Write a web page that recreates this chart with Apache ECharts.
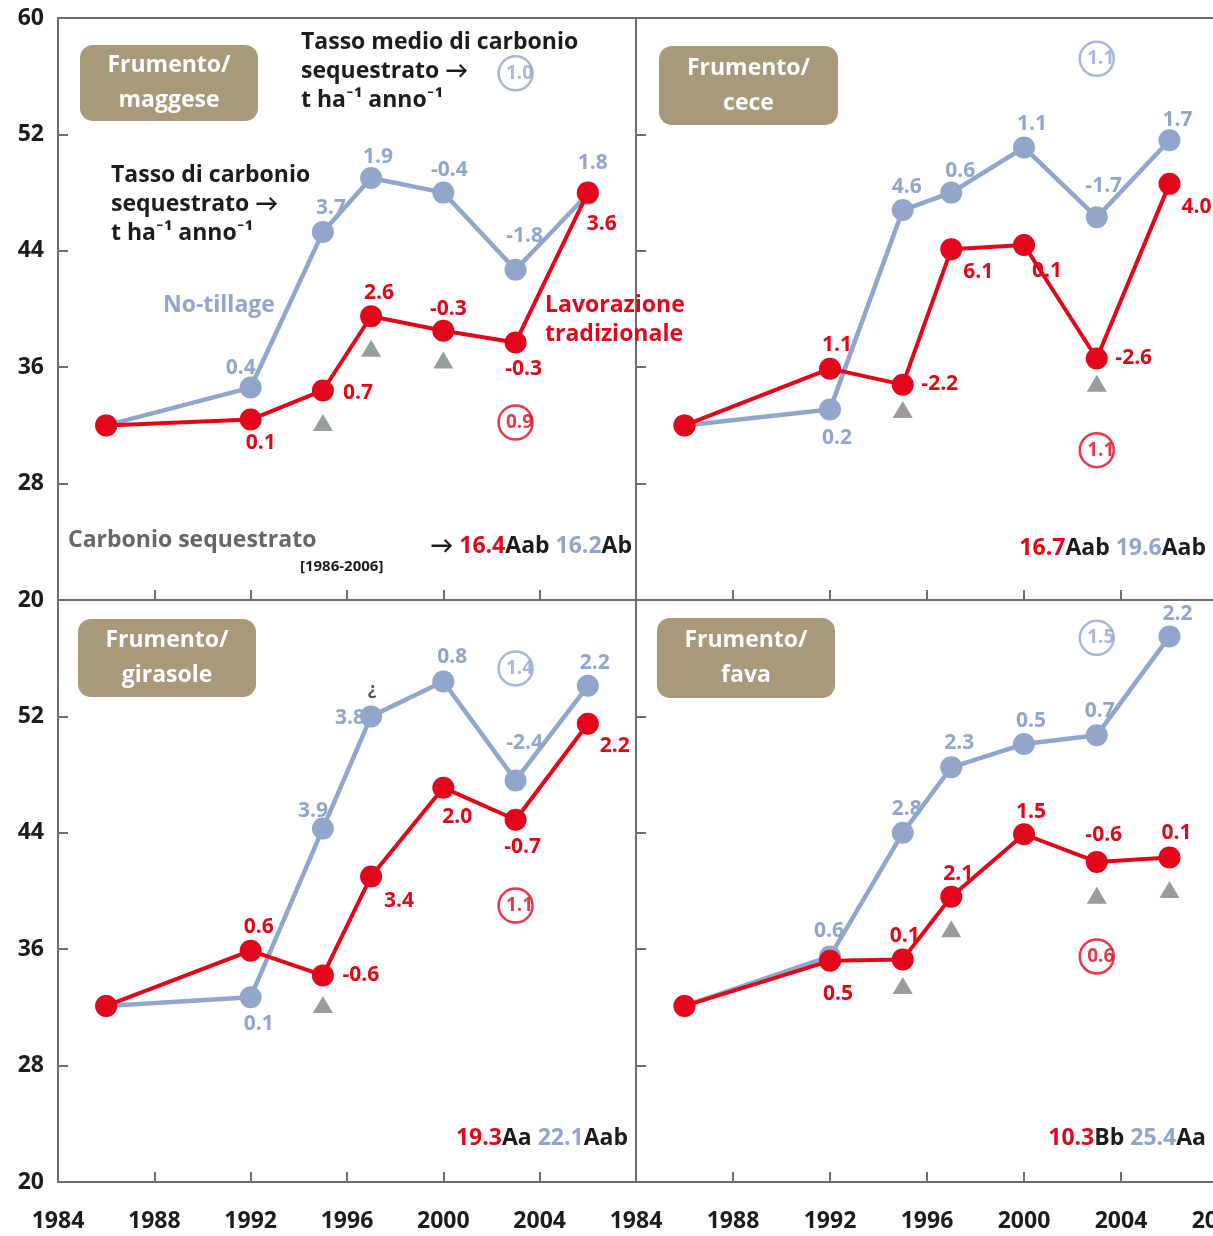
<!DOCTYPE html>
<html><head><meta charset="utf-8">
<script src="https://cdn.jsdelivr.net/npm/echarts/dist/echarts.min.js"></script>
<style>html,body{margin:0;padding:0;background:#fff}#c{width:1213px;height:1236px}</style>
</head><body><div id="c"></div><script>
// ---------------- DATA ----------------
const years = [1986, 1992, 1995, 1997, 2000, 2003, 2006];
const xTicks = [1984, 1988, 1992, 1996, 2000, 2004, 2008];
const yTicks = [20, 28, 36, 44, 52, 60];
const panelTitles = ['Frumento/\nmaggese', 'Frumento/\ncece', 'Frumento/\ngirasole', 'Frumento/\nfava'];

// Carbonio organico del suolo (t/ha)
const tradMaggese   = [32.0, 32.4, 34.4, 39.5, 38.5, 37.7, 48.0];
const notilMaggese  = [32.0, 34.6, 45.3, 49.0, 48.0, 42.7, 47.9];
const tradCece      = [32.0, 35.9, 34.8, 44.1, 44.4, 36.6, 48.6];
const notilCece     = [32.0, 33.1, 46.8, 48.0, 51.1, 46.3, 51.6];
const tradGirasole  = [32.1, 35.9, 34.2, 41.0, 47.1, 44.9, 51.5];
const notilGirasole = [32.1, 32.7, 44.3, 52.0, 54.4, 47.6, 54.1];
const tradFava      = [32.1, 35.2, 35.3, 39.6, 43.9, 42.0, 42.3];
const notilFava     = [32.1, 35.5, 44.0, 48.5, 50.1, 50.7, 57.5];

// Tasso di carbonio sequestrato (t ha-1 anno-1)
const rateTradMaggese   = ['', '0.1', '0.7', '2.6', '-0.3', '-0.3', '3.6'];
const rateNotilMaggese  = ['', '0.4', '3.7', '1.9', '-0.4', '-1.8', '1.8'];
const rateTradCece      = ['', '1.1', '-2.2', '6.1', '0.1', '-2.6', '4.0'];
const rateNotilCece     = ['', '0.2', '4.6', '0.6', '1.1', '-1.7', '1.7'];
const rateTradGirasole  = ['', '0.6', '-0.6', '3.4', '2.0', '-0.7', '2.2'];
const rateNotilGirasole = ['', '0.1', '3.9', '3.8', '0.8', '-2.4', '2.2'];
const rateTradFava      = ['', '0.5', '0.1', '2.1', '1.5', '-0.6', '0.1'];
const rateNotilFava     = ['', '0.6', '2.8', '2.3', '0.5', '0.7', '2.2'];

// Triangoli (differenze significative)
const triYearsMaggese = [1995, 1997, 2000];       const triValMaggese = [32.2, 37.3, 36.5];
const triYearsCece = [1995, 2003];                const triValCece = [33.1, 34.9];
const triYearsGirasole = [1995];                  const triValGirasole = [32.2];
const triYearsFava = [1995, 1997, 2003, 2006];    const triValFava = [33.5, 37.4, 39.7, 40.1];

// Tasso medio di carbonio sequestrato
const avgTrad  = ['0.9', '1.1', '1.1', '0.6'];
const avgNotil = ['1.0', '1.1', '1.4', '1.5'];
// Carbonio sequestrato [1986-2006]
const totTrad     = ['16.4', '16.7', '19.3', '10.3'];
const totTradSig  = ['Aab', 'Aab', 'Aa', 'Bb'];
const totNotil    = ['16.2', '19.6', '22.1', '25.4'];
const totNotilSig = ['Ab', 'Aab', 'Aab', 'Aa'];

// ---------------- LAYOUT / STYLE ----------------
const RED = '#e3061b', BLUE = '#92a6cc', TRI = '#7c877d', TAN = '#a8997a', DARK = '#1c1c1c', BORDER = '#6e6e6e';
const FONT = '"Open Sans", Lato, sans-serif';
const grids = [
  {left: 58, top: 18, width: 578, height: 582},
  {left: 636, top: 18, width: 582, height: 582},
  {left: 58, top: 600, width: 578, height: 582},
  {left: 636, top: 600, width: 582, height: 582}
];
// label offsets (dx, dy) from point centre
const offTrad = [
  [[0,0],[10,23],[35,3],[8,-23],[5,-22],[8,27],[14,31]],
  [[0,0],[7,-24],[37,-1],[27,23],[23,26],[37,0],[27,23]],
  [[0,0],[8,-24],[38,0],[28,25],[14,29],[7,27],[27,22]],
  [[0,0],[8,33],[2,-23],[7,-23],[7,-22],[7,-27],[7,-25]]
];
const offNotil = [
  [[0,0],[-10,-20],[8,-24],[7,-21],[6,-23],[9,-34],[5,-31]],
  [[0,0],[7,29],[4,-23],[9,-22],[8,-23],[7,-31],[8,-20]],
  [[0,0],[8,27],[-10,-17],[-21,2],[9,-24],[9,-37],[7,-23]],
  [[0,0],[-1,-25],[4,-24],[8,-24],[7,-23],[3,-24],[8,-22]]
];
const avgAnchorYear = 2003;
const avgAnchorNotil = [56.2, 57.2, 55.3, 57.4];
const avgAnchorTrad  = [32.2, 30.3, 39.0, 35.5];

const tradAll  = [tradMaggese, tradCece, tradGirasole, tradFava];
const notilAll = [notilMaggese, notilCece, notilGirasole, notilFava];
const rateTradAll  = [rateTradMaggese, rateTradCece, rateTradGirasole, rateTradFava];
const rateNotilAll = [rateNotilMaggese, rateNotilCece, rateNotilGirasole, rateNotilFava];
const triYearsAll = [triYearsMaggese, triYearsCece, triYearsGirasole, triYearsFava];
const triValAll = [triValMaggese, triValCece, triValGirasole, triValFava];

const xAxes = [], yAxes = [], series = [];
for (let i = 0; i < 4; i++) {
  const bottom = i >= 2, left = i % 2 === 0;
  xAxes.push({
    type: 'value', gridIndex: i, min: xTicks[0], max: xTicks[xTicks.length - 1], interval: 4,
    axisLine: {show: false}, splitLine: {show: false},
    axisTick: {show: true, inside: true, length: 10, lineStyle: {color: BORDER, width: 2}},
    axisLabel: {show: bottom, showMaxLabel: !left, showMinLabel: true, margin: 28,
      formatter: v => String(v),
      fontFamily: FONT, fontWeight: 'bold', fontSize: 23, color: DARK}
  });
  yAxes.push({
    type: 'value', gridIndex: i, min: yTicks[0], max: yTicks[yTicks.length - 1], interval: 8,
    axisLine: {show: false}, splitLine: {show: false},
    axisTick: {show: true, inside: true, length: 10, lineStyle: {color: BORDER, width: 2}},
    axisLabel: {show: left, showMaxLabel: !bottom, margin: 14, padding: [10, 0, 0, 0],
      formatter: v => String(v),
      fontFamily: FONT, fontWeight: 'bold', fontSize: 23, color: DARK}
  });
  const mk = (vals, rates, offs, color) => years.map((y, k) => ({
    value: [y, vals[k]],
    label: {show: rates[k] !== '', formatter: rates[k], position: 'inside',
      offset: offs[k], color: color, fontFamily: FONT, fontWeight: 'bold', fontSize: 21}
  }));
  series.push({
    type: 'line', xAxisIndex: i, yAxisIndex: i, z: 3,
    data: mk(notilAll[i], rateNotilAll[i], offNotil[i], BLUE),
    symbol: 'circle', symbolSize: 22, lineStyle: {color: BLUE, width: 4.5},
    itemStyle: {color: BLUE}, emphasis: {disabled: true}
  });
  series.push({
    type: 'line', xAxisIndex: i, yAxisIndex: i, z: 4,
    data: mk(tradAll[i], rateTradAll[i], offTrad[i], RED),
    symbol: 'circle', symbolSize: 22, lineStyle: {color: RED, width: 4},
    itemStyle: {color: RED}, emphasis: {disabled: true}
  });
  series.push({
    type: 'scatter', xAxisIndex: i, yAxisIndex: i, z: 2,
    data: triYearsAll[i].map((y, k) => [y, triValAll[i][k]]),
    symbol: 'triangle', symbolSize: [20, 17], itemStyle: {color: TRI}, emphasis: {disabled: true}
  });
  series.push({
    type: 'scatter', xAxisIndex: i, yAxisIndex: i, z: 5,
    data: [
      {value: [avgAnchorYear, avgAnchorNotil[i]], itemStyle: {borderColor: BLUE},
       label: {formatter: avgNotil[i], color: BLUE}},
      {value: [avgAnchorYear, avgAnchorTrad[i]], itemStyle: {borderColor: RED},
       label: {formatter: avgTrad[i], color: RED}}
    ],
    symbol: 'circle', symbolSize: 34,
    itemStyle: {color: 'rgba(255,255,255,0)', borderWidth: 2.5},
    label: {show: true, position: 'inside', offset: [4, 0], fontFamily: FONT, fontWeight: 'bold', fontSize: 19},
    emphasis: {disabled: true}
  });
}

// graphic annotations
const graphic = [];
const boxPos = [[80, 45, 178, 76], [659, 46, 179, 79], [78, 619, 178, 78], [657, 618, 178, 80]];
boxPos.forEach((b, i) => {
  graphic.push({type: 'rect', shape: {x: b[0], y: b[1], width: b[2], height: b[3], r: 13},
    style: {fill: TAN}, z: 10});
  graphic.push({type: 'text', x: b[0] + b[2] / 2, y: b[1] + b[3] / 2, z: 11,
    style: {text: panelTitles[i], fill: '#fff', font: 'bold 23px ' + FONT, lineHeight: 35,
      textAlign: 'center', textVerticalAlign: 'middle'}});
});
const ann = (x, y, text, fill, size, align, extra) => graphic.push(Object.assign({
  type: 'text', x: x, y: y, z: 12,
  style: Object.assign({text: text, fill: fill, font: 'bold ' + size + 'px ' + FONT,
    textAlign: align || 'left', textVerticalAlign: 'middle'}, extra || {})
}));
ann(301, 71, 'Tasso medio di carbonio\nsequestrato \u2192\nt ha\u207B\u00B9 anno\u207B\u00B9', DARK, 23, 'left', {lineHeight: 29});
ann(111, 204, 'Tasso di carbonio\nsequestrato \u2192\nt ha\u207B\u00B9 anno\u207B\u00B9', DARK, 23, 'left', {lineHeight: 29});
ann(163, 305, 'No-tillage', BLUE, 23);
ann(545, 320, 'Lavorazione\ntradizionale', RED, 23, 'left', {lineHeight: 29});
ann(68, 540, 'Carbonio sequestrato', '#666', 23);
ann(300, 567, '[1986-2006]', DARK, 15);
ann(372, 690, '\u00BF', '#555', 18, 'center');
const totPos = [[632, 546, '\u2192 '], [1206, 548, ''], [628, 1138, ''], [1206, 1138, '']];
totPos.forEach((p, i) => {
  graphic.push({type: 'text', x: p[0], y: p[1], z: 12,
    style: {text: '{k|' + p[2] + '}{r|' + totTrad[i] + '}{k|' + totTradSig[i] + ' }{b|' + totNotil[i] + '}{k|' + totNotilSig[i] + '}',
      textAlign: 'right', textVerticalAlign: 'middle',
      rich: {
        k: {fill: DARK, font: 'bold 23px ' + FONT},
        r: {fill: RED, font: 'bold 23px ' + FONT},
        b: {fill: BLUE, font: 'bold 23px ' + FONT}
      }}});
});

const chart = echarts.init(document.getElementById('c'), null, {renderer: 'canvas'});
chart.setOption({
  animation: false,
  backgroundColor: '#fff',
  grid: grids.map(g => Object.assign({show: true, borderColor: BORDER, borderWidth: 2,
    backgroundColor: 'transparent', containLabel: false, outerBoundsMode: 'none'}, g)),
  xAxis: xAxes, yAxis: yAxes, series: series, graphic: graphic
});
</script></body></html>
